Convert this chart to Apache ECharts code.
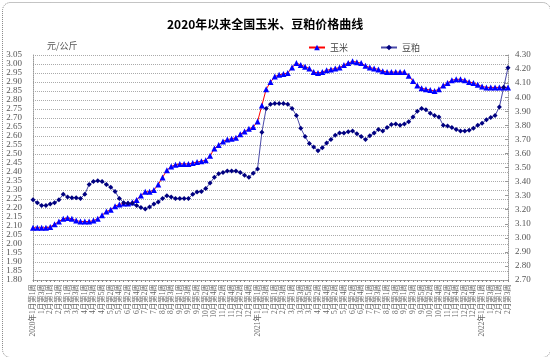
<!DOCTYPE html>
<html><head><meta charset="utf-8">
<script src="https://cdn.jsdelivr.net/npm/echarts@6/dist/echarts.min.js"></script>
<style>html,body{margin:0;padding:0;background:#fff}#c{width:550px;height:357px}</style>
</head><body><div id="c"></div>
<script>
const titleText = '2020年以来全国玉米、豆粕价格曲线';
const unitName = '元/公斤';
const seriesNames = ['玉米', '豆粕'];

const categories2020 = [
'2020年1月第1周','1月第2周','1月第3周','1月第4周',
'2月第1周','2月第2周','2月第3周','2月第4周',
'3月第1周','3月第2周','3月第3周','3月第4周',
'4月第1周','4月第2周','4月第3周','4月第4周','4月第5周',
'5月第1周','5月第2周','5月第3周','5月第4周',
'6月第1周','6月第2周','6月第3周','6月第4周',
'7月第1周','7月第2周','7月第3周','7月第4周','7月第5周',
'8月第1周','8月第2周','8月第3周','8月第4周',
'9月第1周','9月第2周','9月第3周','9月第4周','9月第5周',
'10月第1周','10月第2周','10月第3周','10月第4周',
'11月第1周','11月第2周','11月第3周','11月第4周',
'12月第1周','12月第2周','12月第3周','12月第4周','12月第5周'];
const categories2021 = [
'2021年1月第1周','1月第2周','1月第3周','1月第4周',
'2月第1周','2月第2周','2月第3周','2月第4周',
'3月第1周','3月第2周','3月第3周','3月第4周','3月第5周',
'4月第1周','4月第2周','4月第3周','4月第4周',
'5月第1周','5月第2周','5月第3周','5月第4周',
'6月第1周','6月第2周','6月第3周','6月第4周','6月第5周',
'7月第1周','7月第2周','7月第3周','7月第4周',
'8月第1周','8月第2周','8月第3周','8月第4周',
'9月第1周','9月第2周','9月第3周','9月第4周','9月第5周',
'10月第1周','10月第2周','10月第3周','10月第4周',
'11月第1周','11月第2周','11月第3周','11月第4周',
'12月第1周','12月第2周','12月第3周','12月第4周','12月第5周'];
const categories2022 = [
'2022年1月第1周','1月第2周','1月第3周','1月第4周',
'2月第1周','2月第2周','2月第3周'];

// 玉米 (left axis, 元/公斤)
const corn = [
2.09,2.09,2.09,2.09,2.095,2.11,2.125,2.14,2.145,2.14,
2.13,2.125,2.125,2.125,2.13,2.14,2.16,2.18,2.19,2.21,
2.22,2.225,2.225,2.23,2.245,2.27,2.29,2.29,2.30,2.33,
2.37,2.41,2.43,2.44,2.445,2.445,2.445,2.45,2.455,2.46,
2.465,2.49,2.53,2.55,2.57,2.58,2.585,2.59,2.61,2.625,
2.64,2.65,2.68,2.77,2.86,2.90,2.93,2.94,2.945,2.95,
2.98,3.005,2.995,2.985,2.975,2.955,2.95,2.955,2.965,2.97,
2.975,2.98,2.995,3.005,3.015,3.01,3.005,2.99,2.98,2.975,
2.97,2.96,2.955,2.955,2.955,2.955,2.955,2.935,2.905,2.88,
2.865,2.86,2.855,2.85,2.86,2.88,2.895,2.91,2.915,2.915,
2.91,2.90,2.895,2.885,2.875,2.87,2.87,2.87,2.87,2.87,
2.87];

// 豆粕 (right axis, 元/公斤)
const soymeal = [
3.27,3.25,3.23,3.23,3.24,3.25,3.27,3.31,3.29,3.285,
3.285,3.28,3.31,3.38,3.40,3.405,3.40,3.38,3.36,3.33,
3.28,3.25,3.245,3.245,3.23,3.215,3.205,3.22,3.24,3.255,
3.28,3.30,3.29,3.28,3.28,3.28,3.28,3.31,3.325,3.33,
3.35,3.39,3.43,3.455,3.465,3.475,3.475,3.475,3.465,3.445,
3.43,3.46,3.49,3.75,3.92,3.95,3.955,3.955,3.955,3.95,
3.92,3.87,3.78,3.72,3.67,3.645,3.62,3.64,3.675,3.70,
3.73,3.745,3.745,3.755,3.76,3.74,3.72,3.70,3.725,3.745,
3.77,3.76,3.785,3.805,3.81,3.80,3.81,3.825,3.86,3.90,
3.92,3.91,3.885,3.87,3.86,3.80,3.795,3.785,3.77,3.76,
3.76,3.765,3.78,3.80,3.815,3.84,3.855,3.87,3.93,4.07,
4.21];

const leftTicks = {min: 1.80, max: 3.05, step: 0.05};
const rightTicks = {min: 2.70, max: 4.30, step: 0.10};

const categories = categories2020.concat(categories2021, categories2022);
const chart = echarts.init(document.getElementById('c'), null, {renderer: 'canvas'});
const serif = '"Liberation Serif","Noto Sans CJK SC",serif';
chart.setOption({
  animation: false,
  backgroundColor: '#fff',
  title: {
    text: titleText, left: 162, top: 13,
    textStyle: {fontSize: 12, fontWeight: 'bold', color: '#000', fontFamily: '"Noto Sans CJK SC",sans-serif'}
  },
  legend: {
    data: seriesNames, left: 303, top: 38, itemWidth: 16, itemHeight: 7, itemGap: 32,
    textStyle: {fontSize: 9, color: '#444', fontFamily: '"Noto Sans CJK SC",sans-serif'}
  },
  grid: {left: 33, right: 42, top: 55, bottom: 77, containLabel: false},
  xAxis: {
    type: 'category', data: categories, boundaryGap: false,
    axisLine: {lineStyle: {color: '#888', type: 'dotted'}},
    axisTick: {show: true, interval: 0, length: 2, lineStyle: {color: '#888'}},
    axisLabel: {rotate: 90, interval: 1, fontSize: 7.5, color: '#666', margin: 4, fontFamily: serif}
  },
  yAxis: [{
    type: 'value', min: leftTicks.min, max: leftTicks.max, interval: leftTicks.step,
    name: unitName, nameLocation: 'end', nameGap: 5,
    nameTextStyle: {fontSize: 9, color: '#555', align: 'left', padding: [0, 0, 0, 14], fontFamily: '"Noto Sans CJK SC",sans-serif'},
    axisLine: {show: true, lineStyle: {color: '#999', type: 'dotted'}},
    axisTick: {show: false},
    axisLabel: {fontSize: 9, color: '#555', margin: 11, fontFamily: serif, formatter: v => v.toFixed(2)},
    splitLine: {show: true, lineStyle: {color: '#aaa', type: 'dotted', width: 1}}
  }, {
    type: 'value', min: rightTicks.min, max: rightTicks.max, interval: rightTicks.step,
    axisLine: {show: true, lineStyle: {color: '#999', type: 'dotted'}},
    axisTick: {show: true, inside: true, length: 3, lineStyle: {color: '#999'}},
    axisLabel: {fontSize: 9, color: '#555', margin: 7, fontFamily: serif, formatter: v => v.toFixed(2)},
    splitLine: {show: false}
  }],
  series: [{
    name: seriesNames[0], type: 'line', yAxisIndex: 0, data: corn,
    symbol: 'triangle', symbolSize: 6, showAllSymbol: true,
    lineStyle: {color: '#ff0000', width: 1},
    itemStyle: {color: '#0000ff'}
  }, {
    name: seriesNames[1], type: 'line', yAxisIndex: 1, data: soymeal,
    symbol: 'diamond', symbolSize: 5, showAllSymbol: true,
    lineStyle: {color: '#4a4aa8', width: 1},
    itemStyle: {color: '#000080'}
  }],
  graphic: [{
    type: 'rect', left: 0, top: 0, silent: true,
    shape: {x: 0.5, y: 0.5, width: 548, height: 355, r: 8},
    style: {fill: 'none', stroke: '#888', lineWidth: 1, lineDash: [1, 1]}
  }]
});
</script></body></html>
